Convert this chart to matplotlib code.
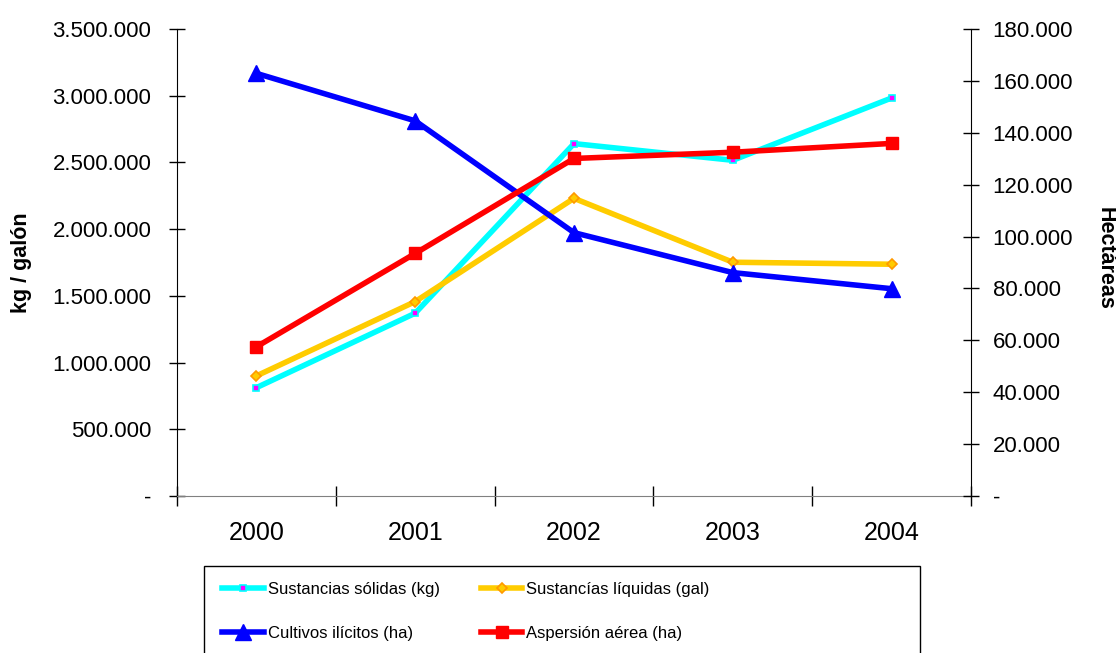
import matplotlib.pyplot as plt
from matplotlib.patches import Rectangle
from matplotlib.ticker import FixedLocator, FuncFormatter

plt.rcParams['font.family'] = ['Liberation Sans', 'DejaVu Sans']
plt.rcParams['font.size'] = 16

years = ['2000', '2001', '2002', '2003', '2004']
solidas_kg = [812000, 1370000, 2641000, 2516000, 2983000]
liquidas_gal = [900000, 1457000, 2231000, 1752000, 1737000]
cultivos_ha = [162900, 144600, 101500, 86100, 79900]
aspersion_ha = [57500, 93500, 130100, 132500, 135900]


def miles(v, pos):
    if abs(v) < 1:
        return '-'
    return f'{v:,.0f}'.replace(',', '.')


W, H = 1116, 653
fig = plt.figure(figsize=(W / 100, H / 100), dpi=100)
ax = fig.add_axes([177 / W, 1 - 496 / H, (971 - 177) / W, (496 - 29) / H])
ax2 = ax.twinx()

x = range(len(years))
l1, = ax.plot(x, solidas_kg, color='#00FFFF', lw=4, marker='s', ms=4,
              mfc='#FF00FF', mec='#00FFFF', mew=1.2, label='Sustancias sólidas (kg)')
l2, = ax.plot(x, liquidas_gal, color='#FFCC00', lw=4, marker='D', ms=5,
              mfc='#FFCC00', mec='#FF9900', mew=1.2, label='Sustancías líquidas (gal)')
l3, = ax2.plot(x, cultivos_ha, color='#0000FF', lw=4, marker='^', ms=11,
               label='Cultivos ilícitos (ha)')
l4, = ax2.plot(x, aspersion_ha, color='#FF0000', lw=4, marker='s', ms=9,
               label='Aspersión aérea (ha)')

ax.set_xlim(-0.5, len(years) - 0.5)
ax.set_ylim(0, 3500000)
ax2.set_ylim(0, 180000)
ax.set_yticks(range(0, 3500001, 500000))
ax2.set_yticks(range(0, 180001, 20000))
ax.yaxis.set_major_formatter(FuncFormatter(miles))
ax2.yaxis.set_major_formatter(FuncFormatter(miles))

ax.set_xticks(list(x))
ax.set_xticklabels(years, fontsize=18)
ax.xaxis.set_minor_locator(FixedLocator([i - 0.5 for i in range(len(years) + 1)]))
ax.tick_params(axis='x', which='major', length=0, pad=18)
ax.tick_params(axis='x', which='minor', direction='inout', length=15, width=1, color='black')
ax.tick_params(axis='y', direction='inout', length=11, width=1, pad=13, labelsize=16)
ax2.tick_params(axis='y', direction='inout', length=11, width=1, pad=10, labelsize=16)

for a in (ax, ax2):
    a.spines['top'].set_visible(False)
    a.spines['bottom'].set_color('#808080')
    a.spines['left'].set_color('black')
    a.spines['right'].set_color('black')
ax.spines['right'].set_visible(False)
ax2.spines['left'].set_visible(False)
ax2.spines['bottom'].set_visible(False)

fig.text(22 / W, 1 - 263 / H, 'kg / galón', rotation=90, fontweight='bold',
         fontsize=15.5, ha='center', va='center')
fig.text(1105 / W, 1 - 258 / H, 'Hectáreas', rotation=-90, fontweight='bold',
         fontsize=15.5, ha='center', va='center')

# legend box (runs off the bottom of the figure, as in the original)
fig.patches.append(Rectangle((204 / W, 1 - 680 / H), (920 - 204) / W, (680 - 566) / H,
                             transform=fig.transFigure, facecolor='none',
                             edgecolor='black', lw=1))

leg = fig.legend([l1, l3, l2, l4], [l1.get_label(), l3.get_label(), l2.get_label(), l4.get_label()],
                 ncol=2, loc='upper left', bbox_to_anchor=(222 / W, 1 - 582 / H),
                 borderaxespad=0, borderpad=0, frameon=False,
                 handlelength=2.5, handletextpad=0.25, columnspacing=2.45,
                 labelspacing=1.75, fontsize=12)

fig.savefig('out.png', dpi=100)
